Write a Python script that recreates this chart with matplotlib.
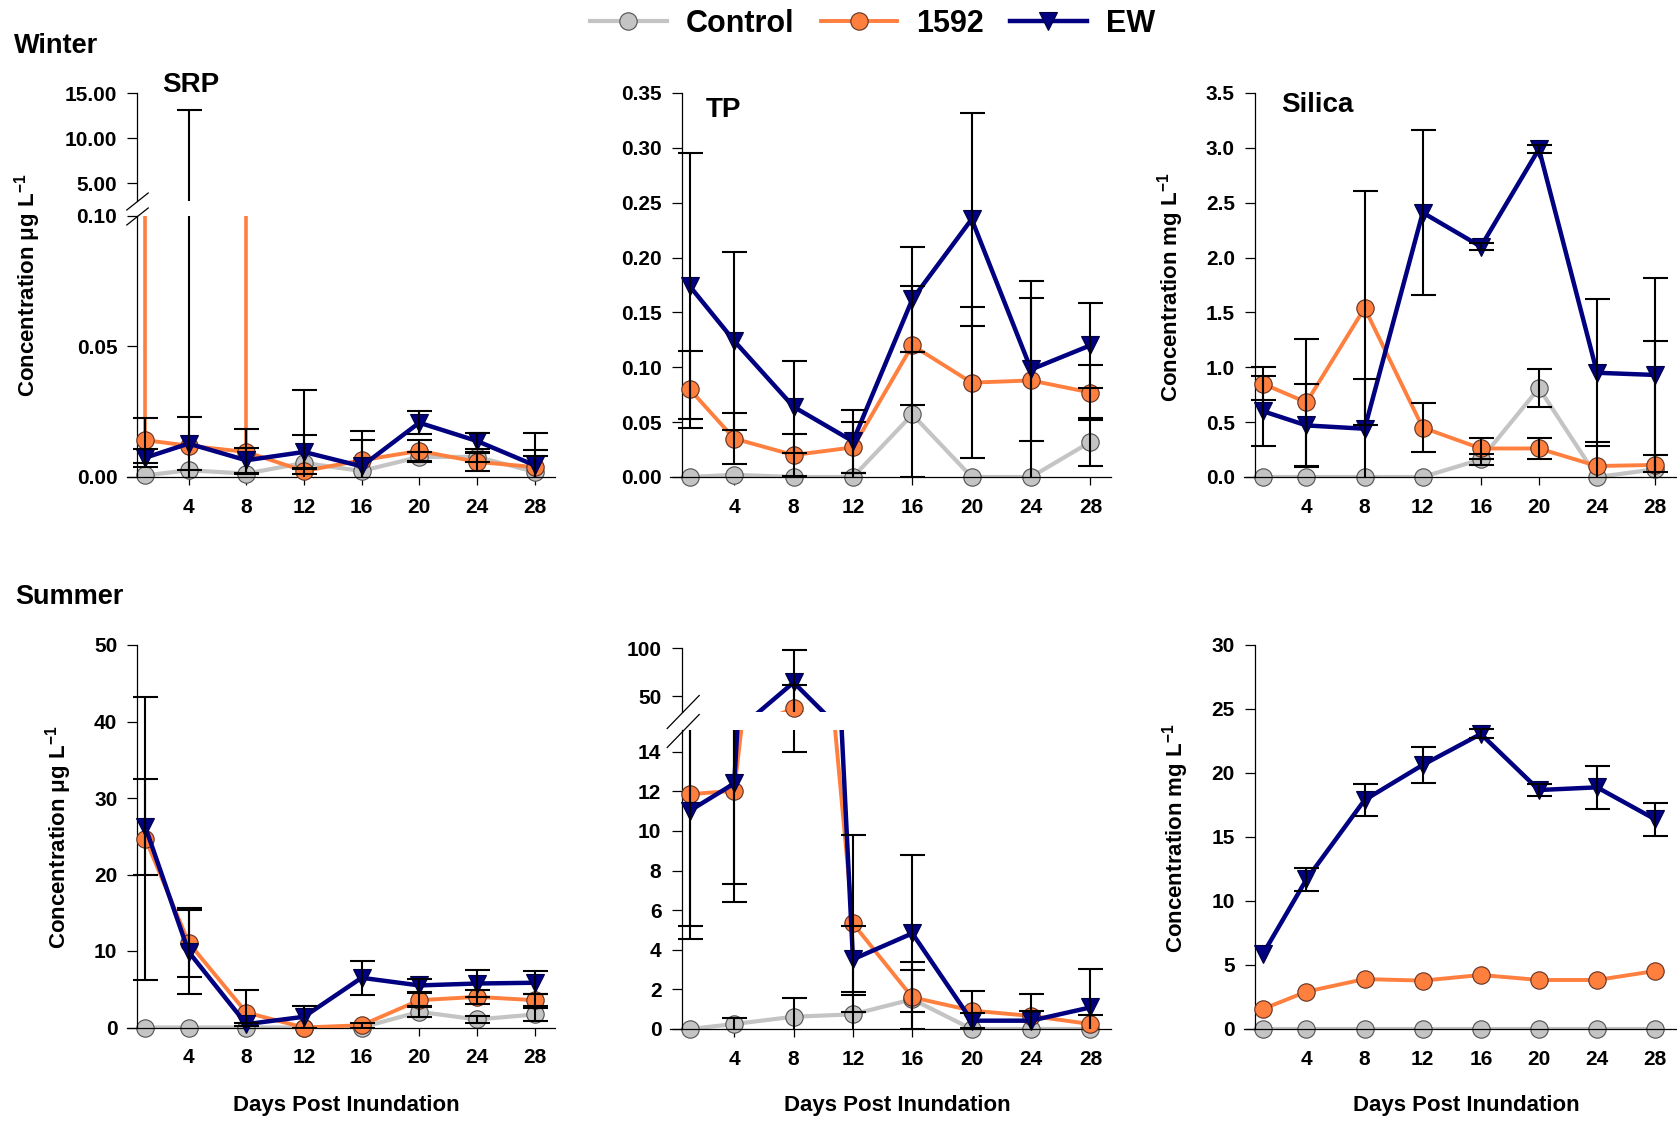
import numpy as np
import matplotlib
matplotlib.use("Agg")
import matplotlib.pyplot as plt
from matplotlib.lines import Line2D
from matplotlib.ticker import FormatStrFormatter

plt.rcParams['font.family'] = ['Liberation Sans', 'DejaVu Sans']
plt.rcParams['font.weight'] = 'bold'
plt.rcParams['mathtext.fontset'] = 'custom'
plt.rcParams['mathtext.rm'] = 'Liberation Sans:bold'
plt.rcParams['mathtext.bf'] = 'Liberation Sans:bold'
plt.rcParams['mathtext.default'] = 'rm'

days = [1, 4, 8, 12, 16, 20, 24, 28]
xticks = [4, 8, 12, 16, 20, 24, 28]
series_names = ['Control', '1592', 'EW']

# winter SRP (ug/L)
srp_w_ctrl = [0.0006, 0.0026, 0.0013, 0.0054, 0.0023, 0.0077, 0.0077, 0.0020]
srp_w_ctrl_se = [0, 0, 0, 0.028, 0, 0.002, 0.002, 0.006]
srp_w_1592 = [0.0141, 0.0120, 0.0096, 0.0023, 0.0064, 0.0100, 0.0058, 0.0038]
srp_w_1592_se = [0.0086, 13.1, 0.0086, 0.0013, 0.0113, 0.004, 0.0035, 0.0131]
srp_w_1592_hi = [1.0, 0, 1.0, 0, 0, 0, 0, 0]
srp_w_ew = [0.0074, 0.0128, 0.0064, 0.0096, 0.0041, 0.0208, 0.0138, 0.0045]
srp_w_ew_se = [0.0035, 0.0103, 0.0048, 0.0064, 0.010, 0.0045, 0.0031, 0.006]

# winter TP
tp_w_ctrl = [0, 0.002, 0, 0, 0.057, 0, 0, 0.032]
tp_w_ctrl_se = [0, 0, 0, 0.004, 0.057, 0, 0, 0.022]
tp_w_1592 = [0.080, 0.035, 0.020, 0.027, 0.120, 0.086, 0.088, 0.077]
tp_w_1592_se = [0.035, 0.023, 0.019, 0.023, 0.054, 0.069, 0.091, 0.025]
tp_w_ew = [0.174, 0.124, 0.064, 0.0325, 0.162, 0.235, 0.098, 0.120]
tp_w_ew_se = [0.121, 0.081, 0.042, 0.029, 0.048, 0.097, 0.065, 0.039]

# winter silica (mg/L)
si_w_ctrl = [0, 0, 0, 0, 0.16, 0.81, 0.0, 0.07]
si_w_ctrl_se = [0, 0, 0, 0, 0.05, 0.17, 0, 0.13]
si_w_1592 = [0.85, 0.68, 1.54, 0.45, 0.26, 0.26, 0.10, 0.11]
si_w_1592_se = [0.15, 0.58, 1.07, 0.22, 0.10, 0.10, 0.22, 1.13]
si_w_ew = [0.60, 0.47, 0.44, 2.41, 2.10, 2.99, 0.95, 0.93]
si_w_ew_se = [0.32, 0.38, 0.45, 0.75, 0.03, 0.04, 0.67, 0.88]

# summer SRP
srp_s_ctrl = [0, 0, 0, 0, 0, 2.05, 1.05, 1.7]
srp_s_ctrl_se = [0, 0, 0, 0, 0, 0.7, 0.4, 0.9]
srp_s_1592 = [24.7, 11.1, 1.96, 0.0, 0.3, 3.57, 4.0, 3.57]
srp_s_1592_se = [18.5, 4.5, 3.0, 0, 0.3, 0.9, 0.9, 0.8]
srp_s_ew = [26.2, 9.9, 0.44, 1.4, 6.5, 5.5, 5.75, 5.85]
srp_s_ew_se = [6.3, 5.5, 0.2, 1.4, 2.2, 0.9, 1.75, 1.5]

# summer TP
tp_s_ctrl = [0, 0.25, 0.62, 0.74, 1.5, 0, 0, 0]
tp_s_ctrl_se = [0, 0.29, 0.96, 1.0, 1.5, 0, 0, 0]
tp_s_1592 = [11.86, 12.03, 37.9, 5.33, 1.6, 0.93, 0.66, 0.25]
tp_s_1592_se = [7.3, 4.7, 23.9, 4.47, 1.8, 1.0, 1.1, 0.46]
tp_s_ew = [11.02, 12.4, 64.5, 3.52, 4.83, 0.42, 0.42, 1.09]
tp_s_ew_se = [5.8, 6.0, 33.8, 1.67, 3.95, 0.37, 0.48, 1.92]

# summer silica
si_s_ctrl = [0, 0, 0, 0, 0, 0, 0, 0]
si_s_ctrl_se = [0, 0, 0, 0, 0, 0, 0, 0]
si_s_1592 = [1.56, 2.92, 3.90, 3.78, 4.22, 3.83, 3.83, 4.53]
si_s_1592_se = [0, 0, 0, 0, 0, 0, 0, 0]
si_s_ew = [5.86, 11.69, 17.89, 20.63, 23.05, 18.67, 18.88, 16.38]
si_s_ew_se = [0, 0.9, 1.25, 1.43, 0.35, 0.45, 1.7, 1.3]

GRAY = '#c4c4c4'
ORANGE = '#ff7f3f'
NAVY = '#000080'
styles = [
    dict(color=GRAY, marker='o', ms=12.5, lw=3.0, mec='#505050', z=2),
    dict(color=ORANGE, marker='o', ms=12.5, lw=2.8, mec='#603020', z=3),
    dict(color=NAVY, marker='v', ms=13.5, lw=3.2, mec='#000040', z=4),
]

W, H = 1677, 1122
fig = plt.figure(figsize=(W / 100, H / 100), dpi=100)


def box(l, t, r, b):
    return [l / W, 1 - b / H, (r - l) / W, (b - t) / H]


def setup(ax, xlim, ylim, yticks, fmt, bottom=True):
    ax.set_xlim(*xlim)
    ax.set_ylim(*ylim)
    ax.set_yticks(yticks)
    ax.yaxis.set_major_formatter(FormatStrFormatter(fmt))
    ax.spines['top'].set_visible(False)
    ax.spines['right'].set_visible(False)
    ax.spines['left'].set_position(('data', 0.45))
    for s in ax.spines.values():
        s.set_linewidth(0.9)
    ax.tick_params(axis='y', direction='out', length=7.5, width=0.9, labelsize=15, pad=7)
    if bottom:
        ax.set_xticks(xticks)
        ax.tick_params(axis='x', direction='out', length=6, width=0.9, labelsize=15, pad=9)
    else:
        ax.spines['bottom'].set_visible(False)
        ax.set_xticks([])
    ax.patch.set_visible(False)


def draw(ax, y, se, st):
    x = np.array(days)
    y = np.asarray(y, dtype=float)
    se = np.asarray(se, dtype=float)
    ax.plot(x, y, color=st['color'], lw=st['lw'], zorder=st['z'])
    lo, hi = ax.get_ylim()
    m = (y >= lo) & (y <= hi)
    ax.plot(x[m], y[m], ls='none', marker=st['marker'], ms=st['ms'], mfc=st['color'],
            mec=st['mec'], mew=0.8, clip_on=False, zorder=st['z'] + 0.5)
    e = se > 0
    if e.any():
        ax.errorbar(x[e], y[e], yerr=se[e], fmt='none', ecolor='black', elinewidth=1.5,
                    capsize=9, capthick=1.5, zorder=10)


def panel(ax, data):
    for (y, se), st in zip(data, styles):
        draw(ax, y, se, st)


def break_marks(xc, yc1, yc2, dx, dy):
    for yc in (yc1, yc2):
        fig.add_artist(Line2D([(xc - dx) / W, (xc + dx) / W],
                              [1 - (yc + dy) / H, 1 - (yc - dy) / H],
                              color='black', lw=0.9, transform=fig.transFigure))


# column extents in pixels (day -0.3 .. right end)
c1 = (126.6, 554.8)
c2 = (670.4, 1111.2)
c3 = (1244.0, 1677)
xl12 = (-0.3, 29.4)
xl3 = (-0.3, 29.5)

# ---------------- Winter ----------------
srp_w = [(srp_w_ctrl, srp_w_ctrl_se), (srp_w_1592, srp_w_1592_se), (srp_w_ew, srp_w_ew_se)]
ax = fig.add_axes(box(c1[0], 216, c1[1], 477))
setup(ax, xl12, (0, 0.10), [0, 0.05, 0.10], '%.2f')
panel(ax, srp_w)
ax.errorbar(days, srp_w_1592, yerr=[np.zeros(8), srp_w_1592_hi], fmt='none',
            ecolor=ORANGE, elinewidth=2.6, capsize=0, zorder=1)
ax = fig.add_axes(box(c1[0], 93, c1[1], 201))
setup(ax, xl12, (3, 15), [5, 10, 15], '%.2f', bottom=False)
panel(ax, srp_w)
break_marks(137.5, 201.5, 216.5, 10.7, 8.5)

ax = fig.add_axes(box(c2[0], 93, c2[1], 477))
setup(ax, xl12, (0, 0.35), np.arange(0, 0.351, 0.05), '%.2f')
panel(ax, [(tp_w_ctrl, tp_w_ctrl_se), (tp_w_1592, tp_w_1592_se), (tp_w_ew, tp_w_ew_se)])

ax = fig.add_axes(box(c3[0], 93, c3[1], 477))
setup(ax, xl3, (0, 3.5), np.arange(0, 3.51, 0.5), '%.1f')
panel(ax, [(si_w_ctrl, si_w_ctrl_se), (si_w_1592, si_w_1592_se), (si_w_ew, si_w_ew_se)])

# ---------------- Summer ----------------
ax = fig.add_axes(box(c1[0], 645, c1[1], 1027.5))
setup(ax, xl12, (0, 50), np.arange(0, 51, 10), '%d')
panel(ax, [(srp_s_ctrl, srp_s_ctrl_se), (srp_s_1592, srp_s_1592_se), (srp_s_ew, srp_s_ew_se)])

tp_s = [(tp_s_ctrl, tp_s_ctrl_se), (tp_s_1592, tp_s_1592_se), (tp_s_ew, tp_s_ew_se)]
ax = fig.add_axes(box(c2[0], 730, c2[1], 1029))
setup(ax, xl12, (0, 15.1), np.arange(0, 15, 2), '%d')
panel(ax, tp_s)
ax = fig.add_axes(box(c2[0], 648, c2[1], 712))
setup(ax, xl12, (34, 100), [50, 100], '%d', bottom=False)
panel(ax, tp_s)
break_marks(683.2, 712, 731, 16, 16.5)

ax = fig.add_axes(box(c3[0], 645, c3[1], 1029))
setup(ax, xl3, (0, 30), np.arange(0, 31, 5), '%d')
panel(ax, [(si_s_ctrl, si_s_ctrl_se), (si_s_1592, si_s_1592_se), (si_s_ew, si_s_ew_se)])

# ---------------- text ----------------
def ftext(x, y, s, **kw):
    fig.text(x / W, 1 - y / H, s, **kw)

ftext(14, 46, 'Winter', fontsize=19.5, va='center', ha='left')
ftext(15, 597, 'Summer', fontsize=19.5, va='center', ha='left')
ftext(162, 85, 'SRP', fontsize=20, va='center', ha='left')
ftext(706, 110, 'TP', fontsize=20, va='center', ha='left')
ftext(1281, 105, 'Silica', fontsize=20, va='center', ha='left')

ylab_ug = 'Concentration μg L$^{-1}$'
ylab_mg = 'Concentration mg L$^{-1}$'
ftext(28, 285, ylab_ug, fontsize=16, rotation=90, va='center', ha='center')
ftext(1171, 287, ylab_mg, fontsize=16, rotation=90, va='center', ha='center')
ftext(59, 837, ylab_ug, fontsize=16, rotation=90, va='center', ha='center')
ftext(1176, 838, ylab_mg, fontsize=16, rotation=90, va='center', ha='center')

for xc in (346.5, 897, 1466):
    ftext(xc, 1106, 'Days Post Inundation', fontsize=16, va='center', ha='center')

handles = [Line2D([], [], color=st['color'], lw=st['lw'], marker=st['marker'], ms=st['ms'],
                  mfc=st['color'], mec=st['mec'], mew=0.8) for st in styles]
fig.legend(handles, series_names, loc='center', bbox_to_anchor=(872.4 / W, 1 - 24 / H),
           ncol=3, frameon=False, fontsize=22, handlelength=2.5, handletextpad=0.62,
           columnspacing=0.87, borderpad=0)

fig.savefig('out.png', dpi=100)
